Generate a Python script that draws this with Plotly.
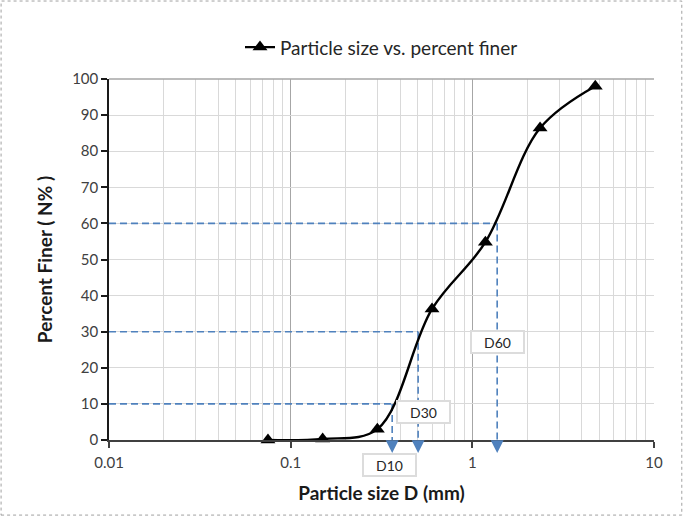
import numpy as np
import plotly.graph_objects as go

# Data
sizes = [0.075, 0.15, 0.3, 0.6, 1.18, 2.36, 4.75]
finer = [0.0, 0.3, 3.0, 36.3, 54.8, 86.4, 98.0]

d_labels = ["D10", "D30", "D60"]
d_pct = [10, 30, 60]
d_size = [0.362, 0.503, 1.37]

x_tickvals = [0.01, 0.1, 1, 10]
x_ticktext = ["0.01", "0.1", "1", "10"]
y_tickvals = list(range(0, 101, 10))

FONT = "Lato"
BLUE = "#4f81bd"

fig = go.Figure()

# guide lines (dashed)
for p, d in zip(d_pct, d_size):
    fig.add_trace(go.Scatter(x=[0.01, d], y=[p, p], mode="lines",
                             line=dict(color=BLUE, width=1.6, dash="7px,4px"),
                             showlegend=False, hoverinfo="skip"))
    fig.add_trace(go.Scatter(x=[d, d], y=[p, 0], mode="lines",
                             line=dict(color=BLUE, width=1.6, dash="7px,4px"),
                             showlegend=False, hoverinfo="skip"))

fig.add_trace(go.Scatter(
    x=sizes, y=finer, mode="lines+markers",
    name="Particle size vs. percent finer",
    line=dict(color="black", width=2.4, shape="spline", smoothing=1.0),
    marker=dict(symbol="triangle-up", size=13, color="black"),
    cliponaxis=False,
))

annotations = []
# arrow heads below the axis
for d in d_size:
    annotations.append(dict(
        x=np.log10(d), y=-3.6, ax=np.log10(d), ay=0,
        xref="x", yref="y", axref="x", ayref="y",
        showarrow=True, arrowhead=2, arrowsize=1.6, arrowwidth=1.6,
        arrowcolor=BLUE, text="", standoff=0,
    ))

# label boxes
label_x = [0.352, 0.538, 1.38]
label_y = [0.0, 7.8, 27.2]
label_shift = [-25, 0, 0]
for t, lx, ly, sh in zip(d_labels, label_x, label_y, label_shift):
    annotations.append(dict(
        x=np.log10(lx), y=ly, xref="x", yref="y", yshift=sh,
        text=t, showarrow=False,
        font=dict(family=FONT, size=14, color="#262626"),
        bgcolor="white", bordercolor="#dcdcdc", borderwidth=2, borderpad=2,
        width=47, height=16,
    ))

fig.update_layout(
    width=683, height=516,
    margin=dict(l=109, r=29, t=79, b=76),
    paper_bgcolor="white", plot_bgcolor="white",
    font=dict(family=FONT, size=16, color="#404040"),
    showlegend=True,
    legend=dict(x=0.5, xanchor="center", y=1.088, yanchor="middle",
                orientation="h", font=dict(family=FONT, size=19, color="#262626"),
                bgcolor="rgba(0,0,0,0)"),
    annotations=annotations,
    shapes=[
        dict(type="line", xref="paper", yref="paper", x0=0, x1=1, y0=1, y1=1,
             line=dict(color="#a6a6a6", width=1.5)),
        dict(type="rect", xref="paper", yref="paper",
             x0=-0.198, x1=1.051, y0=-0.208, y1=1.216,
             line=dict(color="#a0a0a0", width=1, dash="dot")),
    ],
)

fig.update_xaxes(
    type="log", range=[-2, 1],
    tickvals=x_tickvals, ticktext=x_ticktext,
    tickfont=dict(size=15),
    showgrid=True, gridcolor="#a6a6a6", gridwidth=1,
    minor=dict(dtick="D1", showgrid=True, gridcolor="#d9d9d9", gridwidth=1),
    showline=True, linecolor="#404040", linewidth=1.5,
    ticks="outside", ticklen=6, tickcolor="#404040", tickwidth=1.5,
    ticklabelstandoff=2,
    zeroline=False,
    title=dict(text="<b>Particle size D (mm)</b>", standoff=17,
               font=dict(family=FONT, size=19, color="#1a1a1a")),
)
fig.update_yaxes(
    range=[0, 100], tickvals=y_tickvals,
    tickfont=dict(size=15),
    showgrid=True, gridcolor="#d9d9d9", gridwidth=1,
    showline=True, linecolor="#1a1a1a", linewidth=1.5,
    ticks="outside", ticklen=6, tickcolor="#1a1a1a", tickwidth=1.5,
    zeroline=False,
    title=dict(text="<b>Percent Finer ( N% )</b>", standoff=14,
               font=dict(family=FONT, size=19, color="#1a1a1a")),
)

fig.write_html("out.html", config={"displayModeBar": False},
               post_script="document.body.style.margin='0';")
